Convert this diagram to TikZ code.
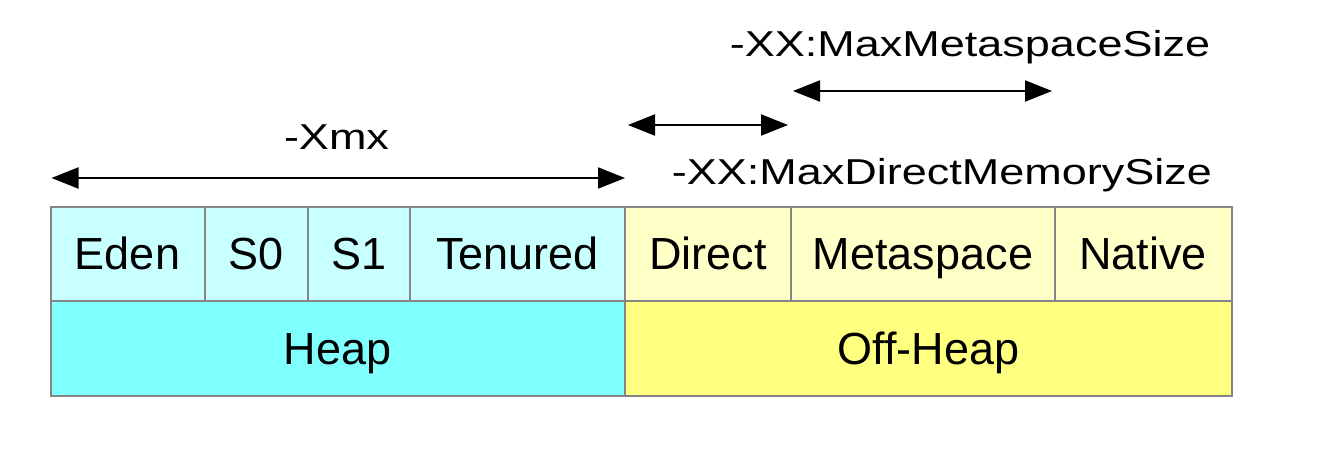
\documentclass[tikz,border=0pt]{standalone}
\usepackage{fontspec}
\setmainfont{Liberation Sans}
\newfontfamily\optfont[FakeStretch=1.25]{Liberation Sans}
\usetikzlibrary{arrows.meta,positioning,calc}
\definecolor{heaplight}{HTML}{C8FFFF}
\definecolor{heapdark}{HTML}{80FFFF}
\definecolor{offlight}{HTML}{FFFFC8}
\definecolor{offdark}{HTML}{FFFF80}
\definecolor{edge}{HTML}{858585}

\begin{document}
\begin{tikzpicture}[x=1pt,y=-1pt,node distance=0pt,
  every node/.style={font=\fontsize{45}{50}\selectfont,align=center},
  cell/.style={draw=edge,line width=2pt,outer sep=0pt,inner sep=0pt,minimum height=94.5pt,text height=31pt,text depth=0pt},
  opt/.style={font=\optfont\fontsize{36}{40}\selectfont,anchor=base,inner sep=0pt},
  dim/.style={{Triangle[length=27pt,width=21pt]}-{Triangle[length=27pt,width=21pt]},line width=2pt}]
\useasboundingbox (0,0) rectangle (1328,470);
% top row
\node[cell,fill=heaplight,minimum width=154pt,anchor=north west] (eden) at (50.5,207) {Eden};
\node[cell,fill=heaplight,minimum width=103.5pt,right=of eden] (s0) {S0};
\node[cell,fill=heaplight,minimum width=102pt,right=of s0] (s1) {S1};
\node[cell,fill=heaplight,minimum width=215pt,right=of s1] (tenured) {Tenured};
\node[cell,fill=offlight,minimum width=166pt,right=of tenured] (direct) {Direct};
\node[cell,fill=offlight,minimum width=264pt,right=of direct] (metaspace) {Metaspace};
\node[cell,fill=offlight,minimum width=176.5pt,right=of metaspace] (native) {Native};
% bottom row
\node[cell,fill=heapdark,minimum width=574.5pt,anchor=north west] (heap) at (eden.south west) {Heap};
\node[cell,fill=offdark,minimum width=606.5pt,right=of heap] (offheap) {Off-Heap};
% size options
\coordinate (xmx-l) at ([xshift=1pt,yshift=29pt]eden.north west);
\coordinate (xmx-r) at ([yshift=29pt]tenured.north east);
\coordinate (dir-l) at ([xshift=3pt,yshift=82pt]direct.north west);
\coordinate (dir-r) at ([xshift=-3pt,yshift=82pt]direct.north east);
\coordinate (meta-l) at ([xshift=2pt,yshift=116pt]metaspace.north west);
\coordinate (meta-r) at ([xshift=-3pt,yshift=116pt]metaspace.north east);
\draw[dim] (xmx-l)--(xmx-r);
\draw[dim] (dir-l)--(dir-r);
\draw[dim] (meta-l)--(meta-r);
\node[opt] (xmx) at (336.5,150) {-Xmx};
\node[opt] (maxmeta) at (970,56.7) {-XX:MaxMetaspaceSize};
\node[opt] (maxdirect) at (942,185) {-XX:MaxDirectMemorySize};
\end{tikzpicture}
\end{document}
